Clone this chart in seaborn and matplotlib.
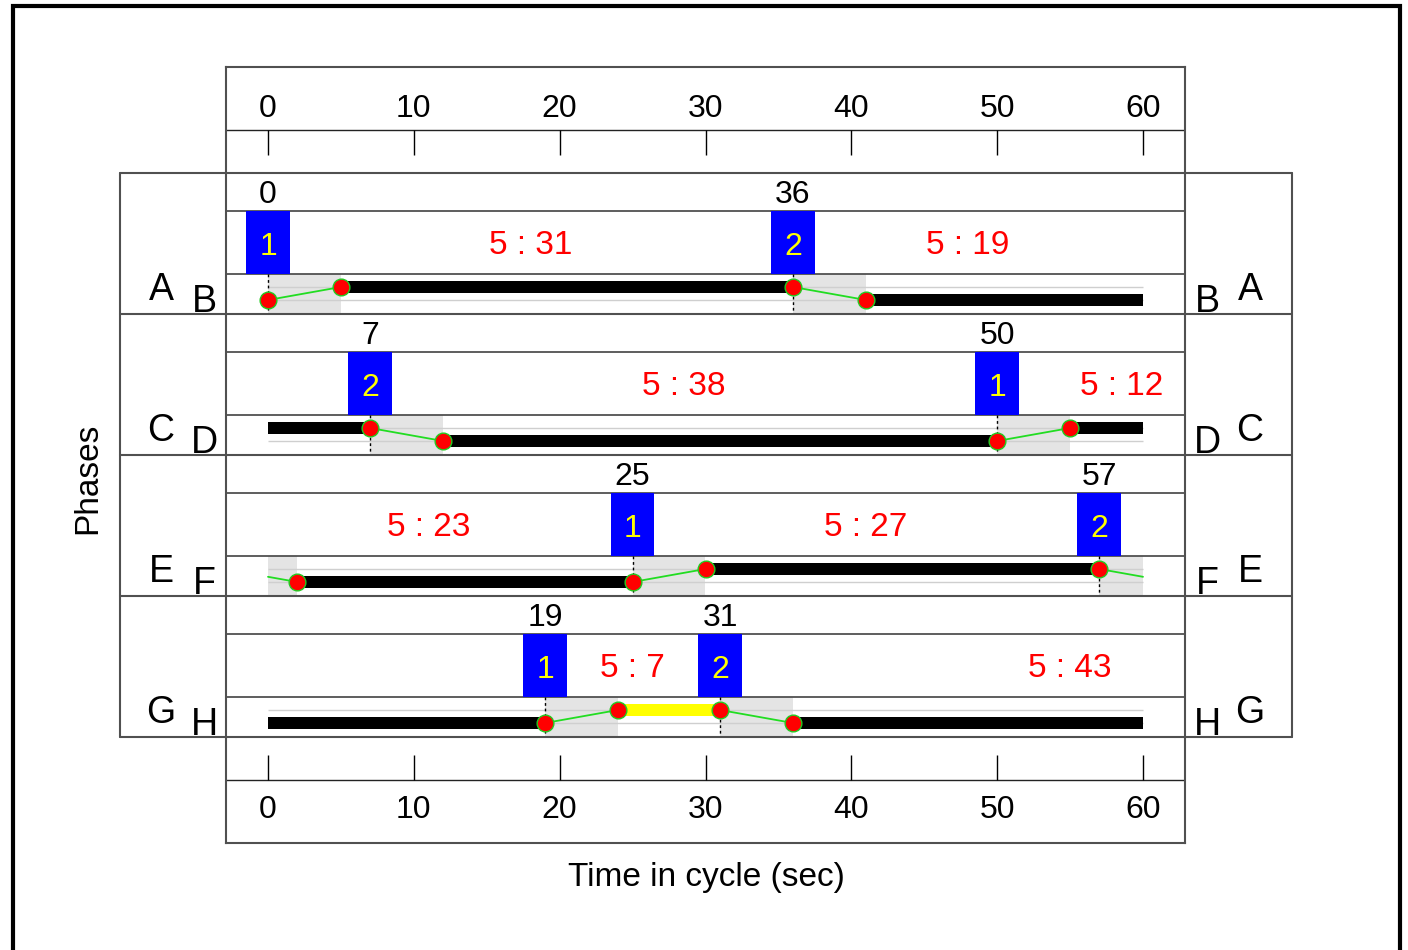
import numpy as np
import pandas as pd
import matplotlib
matplotlib.use("Agg")
import matplotlib.pyplot as plt
import seaborn as sns

# ─── data ──────────────────────────────────────────────────────────────────────
CYCLE = 60
TICKS = [0, 10, 20, 30, 40, 50, 60]

ROW_LEFT = ["A", "C", "E", "G"]
ROW_RIGHT = ["B", "D", "F", "H"]
STAGE_START = [[0, 36], [7, 50], [25, 57], [19, 31]]
STAGE_ID = [[1, 2], [2, 1], [1, 2], [1, 2]]
INTERGREEN = [[5, 5], [5, 5], [5, 5], [5, 5]]
GREEN = [[31, 19], [38, 12], [27, 23], [7, 43]]
BAR_COLOR = [["black", "black"], ["black", "black"], ["black", "black"], ["yellow", "black"]]

# ─── layout (pixels) ──────────────────────────────────────────────────────────
W, H = 1408, 950
INNER_L, INNER_R, INNER_T, INNER_B = 226, 1185, 67, 843
OUTER_L, OUTER_R = 120, 1292
ROW_T0, ROW_H = 173, 141
LINE = "#505050"
SHADE = "#e4e4e4"
LANE = "#cfcfcf"
FS = 23

sns.set_style("white")
plt.rcParams["font.family"] = ["Liberation Sans", "DejaVu Sans"]
plt.rcParams["text.color"] = "black"

fig = plt.figure(figsize=(W / 100, H / 100), dpi=100)
ax = fig.add_axes([INNER_L / W, 1 - INNER_B / H,
                   (INNER_R - INNER_L) / W, (INNER_B - INNER_T) / H])
px = (1143 - 268) / CYCLE   # px per second (0 -> 268, 60 -> 1143)
ax.set_xlim((INNER_L - 268) / px, CYCLE + (INNER_R - 1143) / px)
ax.set_ylim(INNER_B, INNER_T)
ax.set_xticks([])
ax.set_yticks([])
for sp in ax.spines.values():
    sp.set_color(LINE)
    sp.set_linewidth(1.5)


def wrap_spans(a, b):
    if b <= CYCLE:
        return [(a, b)]
    if a >= CYCLE:
        return [(a - CYCLE, b - CYCLE)]
    return [(a, CYCLE), (0, b - CYCLE)]


# time axes top / bottom
ax.axhline(130, color="#222222", lw=1)
ax.axhline(780, color="#222222", lw=1)
ax.vlines(TICKS, 130, 155, color="black", lw=1)
ax.vlines(TICKS, 755, 780, color="black", lw=1)
for t in TICKS:
    ax.text(t, 117, str(t), ha="center", va="baseline", fontsize=FS)
    ax.text(t, 818, str(t), ha="center", va="baseline", fontsize=FS)

dots = []
for r in range(len(ROW_LEFT)):
    top = ROW_T0 + ROW_H * r
    lane = {1: top + 114, 2: top + 127}
    ax.axhline(top + 38, color=LINE, lw=1.3)
    ax.axhline(top + 101, color=LINE, lw=1.3)
    ax.hlines([lane[1], lane[2]], 0, CYCLE, color=LANE, lw=1, zorder=2)

    n = len(STAGE_START[r])
    for k in range(n):
        s, i, g = STAGE_START[r][k], INTERGREEN[r][k], GREEN[r][k]
        sid, prev = STAGE_ID[r][k], STAGE_ID[r][k - 1]
        y0, y1 = lane[prev], lane[sid]

        # intergreen shading
        for a, b in wrap_spans(s, s + i):
            ax.bar(a, 40, width=b - a, bottom=top + 101, align="edge",
                   color=SHADE, lw=0, zorder=1)
        # green bar
        for a, b in wrap_spans(s + i, s + i + g):
            ax.barh(y1, b - a, left=a, height=12, color=BAR_COLOR[r][k],
                    lw=0, zorder=3)
        # transition line
        if s + i <= CYCLE:
            ax.plot([s, s + i], [y0, y1], color="#22dd22", lw=1.3, zorder=4)
        else:
            ym = y0 + (y1 - y0) * (CYCLE - s) / i
            ax.plot([s, CYCLE], [y0, ym], color="#22dd22", lw=1.3, zorder=4)
            ax.plot([0, s + i - CYCLE], [ym, y1], color="#22dd22", lw=1.3, zorder=4)
        dots.append((s, y0))
        dots.append(((s + i) % CYCLE, y1))

        ax.vlines(s, top + 101, top + 141, color="black", lw=1,
                  linestyles=(0, (2, 2)), zorder=3.5)

        # stage box
        ax.bar(s, 63, width=3, bottom=top + 38, color="#0000ff", lw=0, zorder=3)
        ax.text(s, top + 82, str(sid), ha="center", va="baseline",
                fontsize=FS, color="#ffff00", zorder=6)
        ax.text(s, top + 30, str(s), ha="center", va="baseline", fontsize=FS)

        # intergreen : green label, centred in the stage interval
        nxt = STAGE_START[r][(k + 1) % n]
        if nxt <= s:
            nxt += CYCLE
        mid = ((s + nxt) / 2) % CYCLE
        ax.text(mid, top + 81, f"{i} : {g}", ha="center", va="baseline",
                fontsize=FS + 1, color="#ff0000")

dot_df = pd.DataFrame(dots, columns=["t", "y"])
sns.scatterplot(data=dot_df, x="t", y="y", ax=ax, color="#ff0000",
                edgecolor="#22cc22", linewidth=1, s=145, zorder=5, legend=False)
ax.set_xlabel("")
ax.set_ylabel("")

# ─── overlay: outer frame, row boxes, labels ─────────────────────────────────
ov = fig.add_axes([0, 0, 1, 1])
ov.set_xlim(0, W)
ov.set_ylim(H, 0)
ov.axis("off")
ov.patch.set_alpha(0)

ov.plot([13, 13, 1400, 1400], [H + 10, 6, 6, H + 10], color="black", lw=3,
        solid_joinstyle="miter")

n_rows = len(ROW_LEFT)
for k in range(n_rows + 1):
    y = ROW_T0 + ROW_H * k
    ov.plot([OUTER_L, OUTER_R], [y, y], color=LINE, lw=1.5)
ov.plot([OUTER_L, OUTER_L], [ROW_T0, ROW_T0 + ROW_H * n_rows], color=LINE, lw=1.5)
ov.plot([OUTER_R, OUTER_R], [ROW_T0, ROW_T0 + ROW_H * n_rows], color=LINE, lw=1.5)

for r in range(n_rows):
    top = ROW_T0 + ROW_H * r
    ov.text(161, top + 127, ROW_LEFT[r], ha="center", va="baseline", fontsize=27)
    ov.text(204, top + 139, ROW_RIGHT[r], ha="center", va="baseline", fontsize=27)
    ov.text(1207, top + 139, ROW_RIGHT[r], ha="center", va="baseline", fontsize=27)
    ov.text(1250, top + 127, ROW_LEFT[r], ha="center", va="baseline", fontsize=27)

ov.text(88, 478, "Phases", rotation=90, ha="center", va="center", fontsize=24)
ov.text(706, 886, "Time in cycle (sec)", ha="center", va="baseline", fontsize=24)

fig.savefig("out.png", dpi=100, facecolor="white")
